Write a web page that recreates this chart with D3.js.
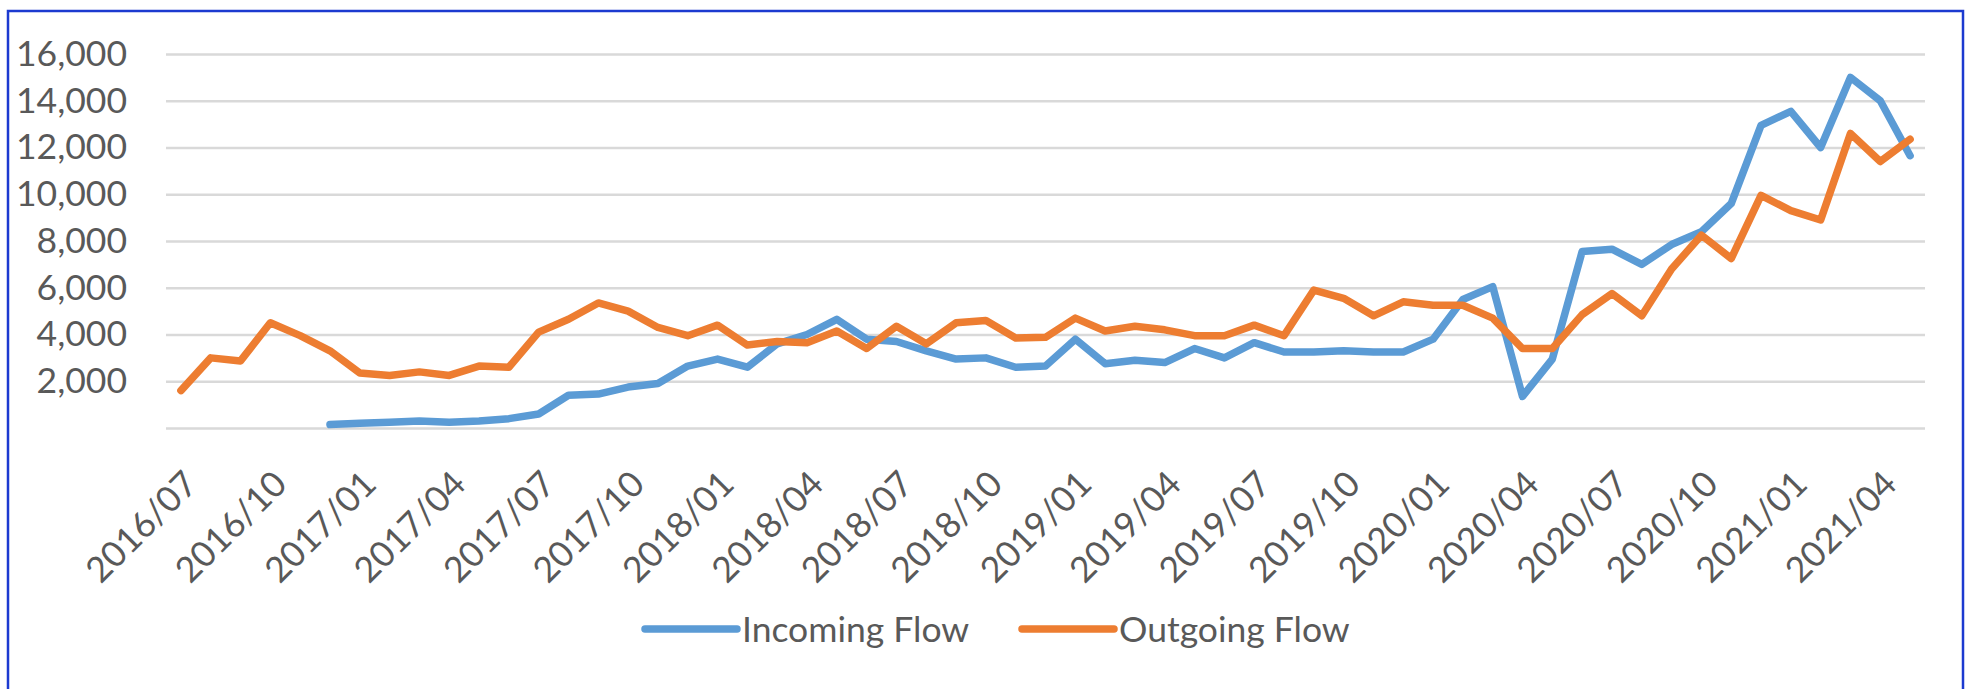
<!DOCTYPE html>
<html>
<head>
<meta charset="utf-8">
<script src="https://cdn.jsdelivr.net/npm/d3@7"></script>
<style>
  body { margin: 0; background: #fff; }
  svg { display: block; font-family: Lato, "Open Sans", sans-serif; }
</style>
</head>
<body>
<div id="chart-container"></div>
<script>
const width = 1970;
const height = 689;
const fontSize = 35.5;

// months, 2016/07 .. 2021/05
const months = [
  "2016/07", "2016/08", "2016/09", "2016/10", "2016/11", "2016/12",
  "2017/01", "2017/02", "2017/03", "2017/04", "2017/05", "2017/06",
  "2017/07", "2017/08", "2017/09", "2017/10", "2017/11", "2017/12",
  "2018/01", "2018/02", "2018/03", "2018/04", "2018/05", "2018/06",
  "2018/07", "2018/08", "2018/09", "2018/10", "2018/11", "2018/12",
  "2019/01", "2019/02", "2019/03", "2019/04", "2019/05", "2019/06",
  "2019/07", "2019/08", "2019/09", "2019/10", "2019/11", "2019/12",
  "2020/01", "2020/02", "2020/03", "2020/04", "2020/05", "2020/06",
  "2020/07", "2020/08", "2020/09", "2020/10", "2020/11", "2020/12",
  "2021/01", "2021/02", "2021/03", "2021/04", "2021/05"
];

const incoming = [
  null, null, null, null, null, 150,
  200, 250, 300, 250, 300, 400,
  600, 1400, 1450, 1750, 1900, 2650,
  2950, 2600, 3600, 4000, 4650, 3800,
  3700, 3300, 2950, 3000, 2600, 2650,
  3800, 2750, 2900, 2800, 3400, 3000,
  3650, 3250, 3250, 3300, 3250, 3250,
  3800, 5500, 6050, 1350, 2950, 7550,
  7650, 7000, 7850, 8400, 9600, 12950,
  13550, 12000, 15000, 14000, 11650
];

const outgoing = [
  1600, 3000, 2870, 4500, 3950, 3300,
  2350, 2250, 2400, 2250, 2650, 2600,
  4100, 4650, 5350, 5000, 4300, 3950,
  4400, 3550, 3700, 3650, 4150, 3400,
  4350, 3600, 4500, 4600, 3850, 3880,
  4700, 4150, 4350, 4200, 3950, 3950,
  4400, 3950, 5900, 5550, 4800, 5400,
  5250, 5250, 4700, 3400, 3400, 4850,
  5750, 4800, 6800, 8250, 7250, 9950,
  9300, 8900, 12600, 11400, 12350
];

const yTicks = [2000, 4000, 6000, 8000, 10000, 12000, 14000, 16000];

const series = [
  { name: "Incoming Flow", values: incoming, color: "#5b9bd5" },
  { name: "Outgoing Flow", values: outgoing, color: "#ed7d31" }
];

const plot = { left: 166, right: 1925, top: 54, bottom: 428 };

const x = d3.scalePoint(months, [plot.left, plot.right]).padding(0.5);
const y = d3.scaleLinear([0, 16000], [plot.bottom, plot.top]);

const svg = d3.select("#chart-container")
  .append("svg")
  .attr("viewBox", [0, 0, width, height])
  .attr("width", width)
  .attr("height", height);

svg.append("rect")
  .attr("width", width).attr("height", height)
  .attr("fill", "#fff");

// gridlines (incl. zero line)
svg.append("g")
  .attr("transform", `translate(${plot.left},0)`)
  .call(d3.axisLeft(y).tickValues([0, ...yTicks]).tickSize(-(plot.right - plot.left)).tickFormat(""))
  .call(g => g.select(".domain").remove())
  .call(g => g.selectAll("line").attr("stroke", "#d9d9d9").attr("stroke-width", 2.5));

// y labels
svg.append("g")
  .attr("transform", `translate(${plot.left},0)`)
  .call(d3.axisLeft(y).tickValues(yTicks).tickSize(0).tickPadding(39).tickFormat(d3.format(",")))
  .call(g => g.select(".domain").remove())
  .call(g => g.selectAll("text")
    .attr("fill", "#595959")
    .attr("font-size", fontSize)
    .attr("font-family", "Lato, sans-serif"));

// x labels, every third month
svg.append("g")
  .attr("transform", `translate(0,${plot.bottom})`)
  .call(d3.axisBottom(x).tickValues(months.filter((d, i) => i % 3 === 0)).tickSize(0))
  .call(g => g.select(".domain").remove())
  .call(g => g.selectAll("text")
    .attr("x", 0).attr("y", 0)
    .attr("dy", "0.72em")
    .attr("text-anchor", "end")
    .attr("transform", "translate(0,40) rotate(-45)")
    .attr("fill", "#595959")
    .attr("font-size", fontSize)
    .attr("font-family", "Lato, sans-serif"));

const line = d3.line()
  .defined(d => d != null)
  .x((d, i) => x(months[i]))
  .y(d => y(d));

svg.append("g")
  .selectAll("path")
  .data(series)
  .join("path")
  .attr("d", d => line(d.values))
  .attr("fill", "none")
  .attr("stroke", d => d.color)
  .attr("stroke-width", 7.5)
  .attr("stroke-linejoin", "round")
  .attr("stroke-linecap", "round");

// legend
const legendX = [645, 1022];
const legend = svg.append("g")
  .selectAll("g")
  .data(series)
  .join("g")
  .attr("transform", (d, i) => `translate(${legendX[i]},629)`);

legend.append("line")
  .attr("x1", 0).attr("x2", 92)
  .attr("stroke", d => d.color)
  .attr("stroke-width", 7.5)
  .attr("stroke-linecap", "round");

legend.append("text")
  .attr("x", 97).attr("y", 13)
  .attr("fill", "#595959")
  .attr("font-size", fontSize)
  .text(d => d.name);

// outer frame
svg.append("rect")
  .attr("x", 8).attr("y", 11)
  .attr("width", 1955).attr("height", 700)
  .attr("fill", "none")
  .attr("stroke", "#1c3ad0")
  .attr("stroke-width", 2.5);
</script>
</body>
</html>
